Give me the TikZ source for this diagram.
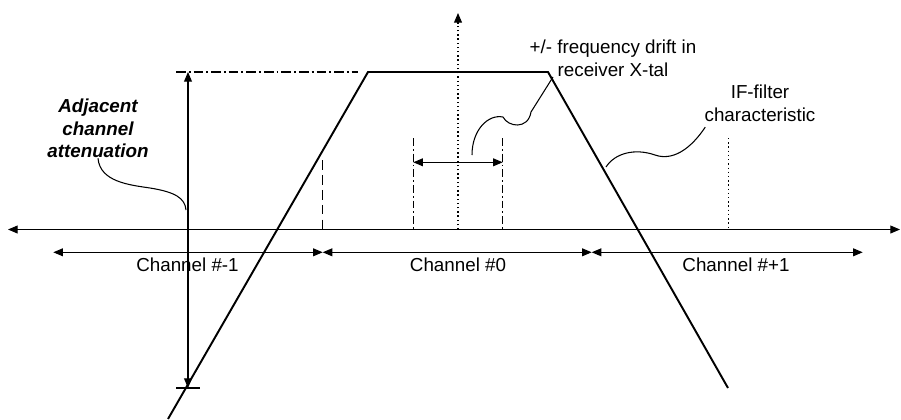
\documentclass[tikz,border=0pt]{standalone}
\usepackage{fontspec}
\setmainfont{Liberation Sans}
\usepackage{tikz}
\usetikzlibrary{arrows.meta,positioning}

\newcommand{\lblsize}{\fontsize{10.7}{12.9}\selectfont}

\tikzset{
  onehead/.style={line width=0.6pt, -{Triangle[length=5.5pt,width=4.5pt]}},
  twoheads/.style={line width=0.6pt, {Triangle[length=5.5pt,width=4.5pt]}-{Triangle[length=5.5pt,width=4.5pt]}},
  ifcurve/.style={line width=1.1pt},
  leaderline/.style={line width=0.6pt},
  refline/.style={line width=0.6pt, dash pattern=on 5.5pt off 1.7pt on 1.1pt off 1.7pt},
  dashdotmark/.style={line width=0.6pt, dash pattern=on 4.5pt off 1.7pt on 1pt off 1.7pt},
  dashmark/.style={line width=0.6pt, dash pattern=on 5.5pt off 3pt},
  dotmark/.style={line width=0.6pt, dash pattern=on 0.8pt off 1.6pt},
  lbl/.style={font=\lblsize, inner sep=0pt}
}

\begin{document}
\begin{tikzpicture}[x=0.02cm, y=-0.02cm]
  \useasboundingbox (0,0) rectangle (901,419);

  % frequency axis and centre line
  \coordinate (axl) at (8,229.5);
  \coordinate (axr) at (900,229.5);
  \coordinate (f0) at (458,229.5);
  \coordinate (ftop) at (458,13);
  \draw[twoheads] (axl) -- (axr);
  \draw[dotmark] (f0) -- ([yshift=-6pt]ftop);
  \draw[onehead] ([yshift=-6pt]ftop) -- (ftop);

  % IF-filter characteristic
  \coordinate (fbl) at (168,419);
  \coordinate (ftl) at (368,72);
  \coordinate (ftr) at (548,72);
  \coordinate (fbr) at (728,388);
  \draw[ifcurve] (fbl) -- (ftl) -- (ftr) -- (fbr);

  % attenuation
  \coordinate (refl) at (176,72);
  \coordinate (refr) at (358,72);
  \coordinate (atttop) at (188,72);
  \coordinate (attbot) at (188,388);
  \draw[refline] (refl) -- (refr);
  \draw[twoheads] (atttop) -- (attbot);
  \draw[line width=0.6pt] (attbot) +(-12,0) -- +(12,0);

  % channel markers
  \draw[dashmark] (322.7,160) -- (322.7,229.5);
  \draw[dashdotmark] (413.3,138) -- (413.3,229.5);
  \draw[dashdotmark] (502.7,138) -- (502.7,229.5);
  \draw[dotmark] (728.3,138) -- (728.3,229.5);

  % drift
  \coordinate (d1) at (413.3,162.3);
  \coordinate (d2) at (502.7,162.3);
  \draw[twoheads] (d1) -- (d2);

  % channels
  \coordinate (c0) at (53.3,252.3);
  \coordinate (c1) at (322.7,252.3);
  \coordinate (c2) at (591.7,252.3);
  \coordinate (c3) at (862.7,252.3);
  \draw[twoheads] (c0) -- (c1);
  \draw[twoheads] (c1) -- (c2);
  \draw[twoheads] (c2) -- (c3);
  \node[lbl, anchor=base] (chm1) at (187.5,271) {Channel \#-1};
  \node[lbl, anchor=base] (ch0) at (458,271) {Channel \#0};
  \node[lbl, anchor=base] (chp1) at (736,271) {Channel \#+1};

  % labels
  \node[lbl, align=center] (driftlbl) at (613,58) {+/- frequency drift in\\receiver X-tal};
  \node[lbl, align=center] (iflbl) at (760,103.5) {IF-filter\\characteristic};
  \node[lbl, align=center, font=\lblsize\bfseries\itshape] (attlbl) at (98,128.4) {Adjacent\\channel\\attenuation};

  % leaders
  \coordinate (attend) at (186,210);
  \coordinate (driftfoot) at (472,155);
  \coordinate (drifthead) at (553,77);
  \coordinate (iffoot) at (606,167);
  \draw[leaderline] (attlbl.south) .. controls (100,182) and (130,185) .. (150,188)
    .. controls (175,192) and (185,198) .. (attend);
  \draw[leaderline] (driftfoot) .. controls (472,130) and (488,114) .. (503,117)
    .. controls (508,127) and (528,130) .. (531,112) -- (drifthead);
  \draw[leaderline] (iffoot) .. controls (615,153) and (635,148) .. (655,155)
    .. controls (672,161) and (690,150) .. ([shift={(1,5)}]iflbl.south west);
\end{tikzpicture}
\end{document}
